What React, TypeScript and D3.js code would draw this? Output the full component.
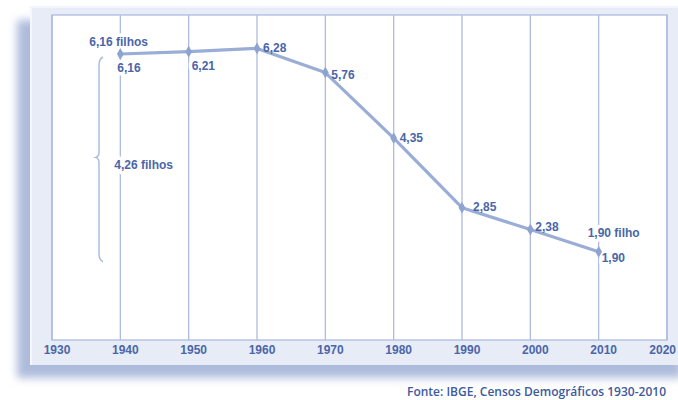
import React from "react";
import * as d3 from "d3";

const years = [1940, 1950, 1960, 1970, 1980, 1990, 2000, 2010];
const values = [6.16, 6.21, 6.28, 5.76, 4.35, 2.85, 2.38, 1.9];
const valueLabels = ["6,16", "6,21", "6,28", "5,76", "4,35", "2,85", "2,38", "1,90"];
const tickYears = [1930, 1940, 1950, 1960, 1970, 1980, 1990, 2000, 2010, 2020];
const startNote = "6,16 filhos";
const endNote = "1,90 filho";
const diffNote = "4,26 filhos";
const source = "Fonte: IBGE, Censos Demográficos 1930-2010";

// label offsets (px) relative to each point
const labelOffsets: [number, number][] = [
  [-3, 14], [3, 14], [6, 0], [6, 2], [6, 0], [11, -1], [5, -3], [3, 6],
];

const W = 678;
const H = 400;
const left = 52, right = 667, top = 15, bottom = 340;

const TEXT = "#4a66a8";
const LINE = "#9aadd6";
const GRID = "#adbcde";

export default function App() {
  const x = d3.scaleLinear().domain([1930, 2020]).range([left, right]);
  const y = d3.scaleLinear().domain([0, 7]).range([bottom, top]);
  const line = d3.line<number>().x((_, i) => x(years[i])).y((d) => y(d));
  const path = line(values) || "";

  const bTop = y(values[0]) + 3;
  const bBot = y(values[7]) + 10;
  const bMid = (bTop + bBot) / 2 - 2;
  const bx = 99;
  const brace = `M${bx + 4},${bTop} Q${bx},${bTop + 2} ${bx},${bTop + 8} L${bx},${bMid - 5} Q${bx},${bMid - 1} ${bx - 3.5},${bMid} Q${bx},${bMid + 1} ${bx},${bMid + 5} L${bx},${bBot - 8} Q${bx},${bBot - 2} ${bx + 4},${bBot}`;

  const labels: { t: string; x: number; y: number }[] = values.map((v, i) => ({
    t: valueLabels[i],
    x: x(years[i]) + labelOffsets[i][0],
    y: y(v) + labelOffsets[i][1] + 4,
  }));
  labels.push({ t: startNote, x: x(1940) - 31, y: y(values[0]) - 8 });
  labels.push({ t: endNote, x: x(2010) - 11, y: y(values[7]) - 15 });
  labels.push({ t: diffNote, x: x(1940) - 6, y: bMid + 12 });

  const font = "'Liberation Sans', Arial, sans-serif";

  return (
    <svg width={W} height={H} style={{ position: "absolute", left: 0, top: 0 }}>
      <defs>
        <filter id="sh" x="-10%" y="-10%" width="120%" height="130%">
          <feGaussianBlur stdDeviation="4" />
        </filter>
      </defs>
      <rect x={0} y={0} width={W} height={H} fill="#ffffff" />
      <rect x={17} y={20} width={665} height={358} fill="#aebcdb" filter="url(#sh)" />
      <rect x={30} y={6} width={660} height={359} fill="#e7ecf7" />
      <line x1={31} y1={7} x2={31} y2={365} stroke="#f5f7fc" strokeWidth={2} />
      <line x1={30} y1={7} x2={678} y2={7} stroke="#f2f5fb" strokeWidth={2} />
      <rect x={left} y={top} width={right - left} height={bottom - top} fill="#ffffff" stroke={GRID} strokeWidth={1.3} />
      {tickYears.map((t) => (
        <line key={t} x1={x(t)} x2={x(t)} y1={top} y2={bottom} stroke={GRID} strokeWidth={1.3} />
      ))}
      {tickYears.map((t, i) => {
        const last = i === tickYears.length - 1;
        return (
          <text key={"l" + t} x={last ? 676 : x(t) + 5} y={bottom + 14} textAnchor={last ? "end" : "middle"} fontFamily={font} fontWeight="bold" fontSize={12} fill={TEXT}>
            {t}
          </text>
        );
      })}
      {labels.map((l, i) => (
        <text key={"h" + i} x={l.x} y={l.y} fontFamily={font} fontWeight="bold" fontSize={12} fill="#fff" stroke="#fff" strokeWidth={7} strokeLinejoin="round">
          {l.t}
        </text>
      ))}
      <path d={brace} fill="none" stroke={GRID} strokeWidth={1.5} />
      <path d={path} fill="none" stroke={LINE} strokeWidth={3.2} strokeLinejoin="round" />
      {values.map((v, i) => (
        <path key={"m" + i} d={d3.symbol(d3.symbolDiamond, 40)() || ""} transform={`translate(${x(years[i])},${y(v)})`} fill="#8fa3d0" />
      ))}
      {labels.map((l, i) => (
        <text key={"t" + i} x={l.x} y={l.y} fontFamily={font} fontWeight="bold" fontSize={12} fill={TEXT}>
          {l.t}
        </text>
      ))}
      <text x={666} y={396} textAnchor="end" fontFamily="'Open Sans', sans-serif" fontWeight={600} fontSize={12} fill="#3d5a9c">
        {source}
      </text>
    </svg>
  );
}
